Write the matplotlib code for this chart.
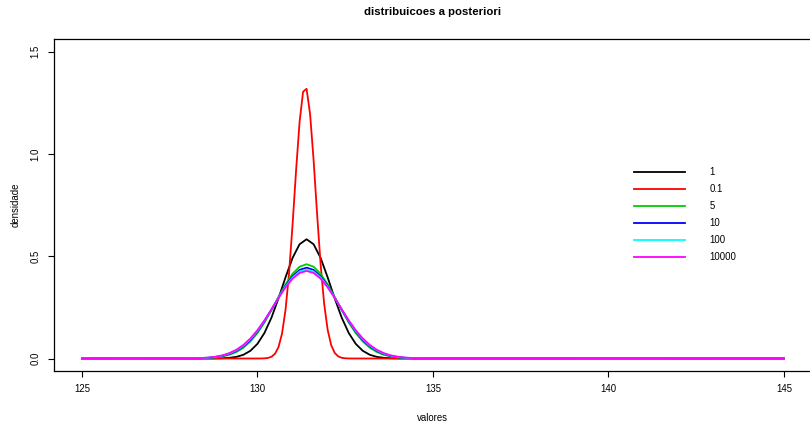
import matplotlib
matplotlib.use("Agg")
import matplotlib.pyplot as plt

plt.rcParams['font.family'] = ['Liberation Sans', 'DejaVu Sans']

# shared grid for the wide curves (125, 127.6 .. 135.2 step 0.2, 145)
x_wide = [125.0,
          127.6, 127.8, 128.0, 128.2, 128.4, 128.6, 128.8, 129.0, 129.2, 129.4,
          129.6, 129.8, 130.0, 130.2, 130.4, 130.6, 130.8, 131.0, 131.2,
          131.4,
          131.6, 131.8, 132.0, 132.2, 132.4, 132.6, 132.8, 133.0, 133.2,
          133.4, 133.6, 133.8, 134.0, 134.2, 134.4, 134.6, 134.8, 135.0, 135.2,
          145.0]

# half profiles, from the centre (131.4) outwards
half_1 = [0.583, 0.5586, 0.4914, 0.3969, 0.2942, 0.2002, 0.1251, 0.0718, 0.0378,
          0.0183, 0.0081, 0.0033, 0.0012, 0.0004, 0.0001, 0.0, 0.0, 0.0, 0.0, 0.0]
half_5 = [0.461, 0.4488, 0.4143, 0.3624, 0.3006, 0.2363, 0.1761, 0.1244, 0.0833,
          0.0529, 0.0318, 0.0182, 0.0098, 0.0050, 0.0024, 0.0011, 0.0005, 0.0002,
          0.0001, 0.0]
half_10 = [0.444, 0.4331, 0.4021, 0.3552, 0.2986, 0.2388, 0.1818, 0.1317, 0.0908,
           0.0595, 0.0372, 0.0221, 0.0125, 0.0067, 0.0034, 0.0017, 0.0008, 0.0003,
           0.0001, 0.0001]
half_100 = [0.435, 0.4248, 0.3955, 0.3512, 0.2973, 0.2400, 0.1848, 0.1356, 0.0949,
            0.0633, 0.0403, 0.0245, 0.0142, 0.0078, 0.0041, 0.0021, 0.0010, 0.0004,
            0.0002, 0.0001]
half_10000 = [0.428, 0.4182, 0.3903, 0.3479, 0.2961, 0.2407, 0.1868, 0.1385, 0.0981,
              0.0663, 0.0428, 0.0264, 0.0155, 0.0087, 0.0047, 0.0024, 0.0012, 0.0006,
              0.0002, 0.0001]

# the sharp one (0.1) on a finer grid
x_red = [125.0,
         130.0, 130.1, 130.2, 130.3, 130.4, 130.5, 130.6, 130.7, 130.8, 130.9,
         131.0, 131.1, 131.2, 131.3, 131.4, 131.5, 131.6, 131.7, 131.8, 131.9,
         132.0, 132.1, 132.2, 132.3, 132.4, 132.5, 132.6, 132.7,
         145.0]
y_red = [0.0,
         0.0001, 0.0002, 0.0008, 0.0028, 0.0085, 0.0230, 0.0558, 0.1217, 0.2379, 0.4163,
         0.6530, 0.9177, 1.1556, 1.3040, 1.3184, 1.1944, 0.9696, 0.7052, 0.4596, 0.2684,
         0.1405, 0.0658, 0.0277, 0.0104, 0.0035, 0.0011, 0.0003, 0.0001,
         0.0]

labels = ["1", "0.1", "5", "10", "100", "10000"]
colors = ["black", "red", "#00cd00", "blue", "cyan", "magenta"]


def full(half):
    # mirror the half profile around the centre point, zero at the ends
    return [0.0] + half[::-1] + half[1:] + [0.0]


fig = plt.figure(figsize=(8.1, 4.24), dpi=100)
ax = fig.add_axes([0.0665, 0.1255, 0.936, 0.7816])

series = [(x_wide, full(half_1)), (x_red, y_red), (x_wide, full(half_5)),
          (x_wide, full(half_10)), (x_wide, full(half_100)), (x_wide, full(half_10000))]
for (xs, ys), lab, col in zip(series, labels, colors):
    ax.plot(xs, ys, color=col, lw=1.3, label=lab)

ax.set_xlim(124.2, 145.8)
ax.set_ylim(-0.06, 1.56)
ax.set_xticks([125, 130, 135, 140, 145])
ax.set_yticks([0.0, 0.5, 1.0, 1.5])
ax.set_yticklabels(["0.0", "0.5", "1.0", "1.5"], rotation=90, va='center')
ax.tick_params(direction='out', length=4.5, width=0.8, labelsize=6.9, pad=5)
for s in ax.spines.values():
    s.set_linewidth(0.9)

ax.set_xlabel("valores", fontsize=6.9, labelpad=14)
ax.set_ylabel("densidade", fontsize=6.9, labelpad=7)
fig.text(433 / 810, 1 - 12 / 424, "distribuicoes a posteriori", fontsize=8.2,
         fontweight='bold', ha='center', va='center')

ax.legend(loc='upper left', bbox_to_anchor=(634 / 810, 1 - 167 / 424),
          bbox_transform=fig.transFigure, frameon=False, fontsize=6.9,
          handlelength=5.3, handletextpad=2.6, labelspacing=0.74,
          borderpad=0, borderaxespad=0)

fig.savefig("out.png", dpi=100)
